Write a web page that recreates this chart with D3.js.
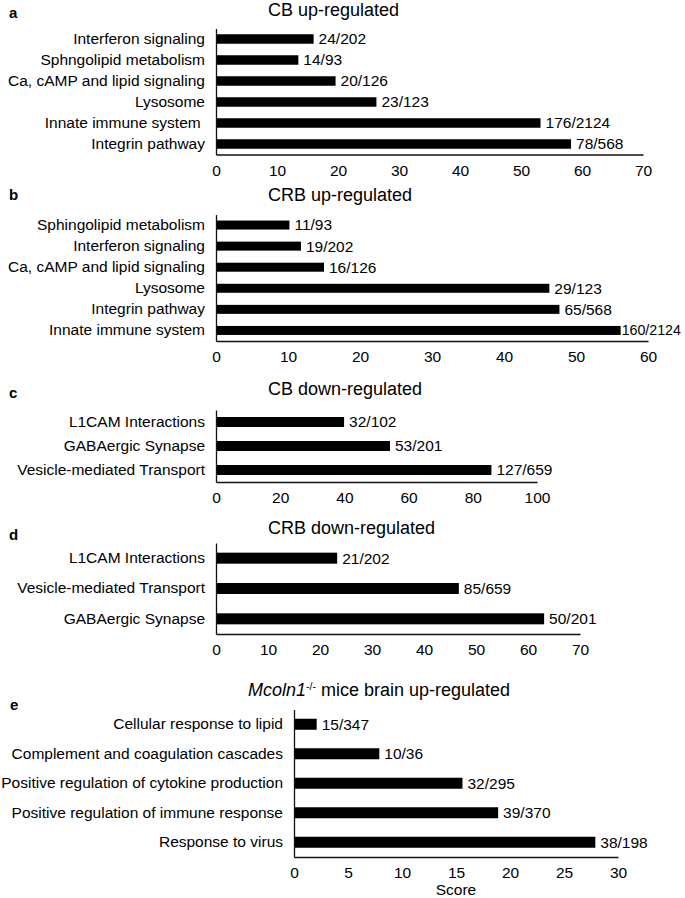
<!DOCTYPE html>
<html><head><meta charset="utf-8">
<script src="https://cdn.jsdelivr.net/npm/d3@7"></script>
<style>
body{margin:0;background:#fff}
text{font-family:"Liberation Sans",Arial,Helvetica,sans-serif;fill:#000}
</style>
</head><body>
<svg id="chart" width="685" height="898"></svg>
<script>
// ---------- data ----------
const aCategories = ["Interferon signaling","Sphngolipid metabolism","Ca, cAMP and lipid signaling","Lysosome","Innate immune system\u00A0","Integrin pathway"];
const aValues = [16.0, 13.5, 19.6, 26.3, 53.2, 58.2];
const aLabels = ["24/202","14/93","20/126","23/123","176/2124","78/568"];
const aTicks = [0,10,20,30,40,50,60,70];

const bCategories = ["Sphingolipid metabolism","Interferon signaling","Ca, cAMP and lipid signaling","Lysosome","Integrin pathway","Innate immune system"];
const bValues = [10.2, 11.8, 15.0, 46.3, 47.7, 56.2];
const bLabels = ["11/93","19/202","16/126","29/123","65/568","160/2124"];
const bTicks = [0,10,20,30,40,50,60];

const cCategories = ["L1CAM Interactions","GABAergic Synapse","Vesicle-mediated Transport"];
const cValues = [39.9, 54.2, 85.8];
const cLabels = ["32/102","53/201","127/659"];
const cTicks = [0,20,40,60,80,100];

const dCategories = ["L1CAM Interactions","Vesicle-mediated Transport","GABAergic Synapse"];
const dValues = [23.3, 46.7, 63.1];
const dLabels = ["21/202","85/659","50/201"];
const dTicks = [0,10,20,30,40,50,60,70];

const eCategories = ["Cellular response to lipid","Complement and coagulation cascades","Positive regulation of cytokine production","Positive regulation of immune response","Response to virus"];
const eValues = [2.1, 7.9, 15.6, 18.9, 27.9];
const eLabels = ["15/347","10/36","32/295","39/370","38/198"];
const eTicks = [0,5,10,15,20,25,30];

const titles = ["CB up-regulated","CRB up-regulated","CB down-regulated","CRB down-regulated",null];
const letters = ["a","b","c","d","e"];

// ---------- layout ----------
const layout = [
  {cats:aCategories, vals:aValues, labels:aLabels, ticks:aTicks, max:70, x0:216, x1:643, y0:28.5, y1:154.5, bar:9.5, tx:268, ty:10, lx:9, ly:13},
  {cats:bCategories, vals:bValues, labels:bLabels, ticks:bTicks, max:60, x0:216, x1:648, y0:214.5, y1:341, bar:9, tx:268, ty:195, lx:9, ly:195},
  {cats:cCategories, vals:cValues, labels:cLabels, ticks:cTicks, max:100, x0:216, x1:537, y0:410, y1:482, bar:10, tx:268, ty:389, lx:9, ly:393},
  {cats:dCategories, vals:dValues, labels:dLabels, ticks:dTicks, max:70, x0:216, x1:580, y0:543, y1:634, bar:11, tx:268, ty:528, lx:9, ly:535},
  {cats:eCategories, vals:eValues, labels:eLabels, ticks:eTicks, max:30, x0:294, x1:618, y0:709.5, y1:857, bar:11, tx:248, ty:690, lx:10, ly:705}
];

const svg = d3.select("#chart");
const FS = 15.5;
const W = 685;

layout.forEach((p, i) => {
  const g = svg.append("g");
  const x = d3.scaleLinear().domain([0, p.max]).range([p.x0, p.x1]);
  const y = d3.scaleBand().domain(p.cats).range([p.y0, p.y1]).padding(0);

  // bars
  g.selectAll("rect.bar").data(p.cats).join("rect")
    .attr("class","bar")
    .attr("x", x(0))
    .attr("y", d => y(d) + y.bandwidth()/2 - p.bar/2)
    .attr("width", (d, k) => x(p.vals[k]) - x(0))
    .attr("height", p.bar)
    .attr("fill", "#000");

  // value labels (shrink a label slightly if it would run off the page)
  g.selectAll("text.val").data(p.cats).join("text")
    .attr("class","val")
    .attr("y", d => y(d) + y.bandwidth()/2)
    .attr("dy", "0.35em")
    .attr("font-size", FS)
    .text((d, k) => p.labels[k])
    .each(function(d, k) {
      const end = x(p.vals[k]);
      const w = this.getComputedTextLength();
      const room = W - 4 - end;
      let gap = 5;
      if (w + gap > room) {
        gap = 1;
        if (w + gap > room) {
          d3.select(this).attr("font-size", FS * (room - gap) / w);
        }
      }
      d3.select(this).attr("x", end + gap);
    });

  // y axis (category labels)
  const ya = g.append("g").attr("transform", `translate(${p.x0},0)`)
    .call(d3.axisLeft(y).tickSize(0).tickSizeOuter(0).tickPadding(11));
  ya.select(".domain").attr("stroke", "#111").attr("stroke-width", 1.3);
  ya.selectAll("text").attr("font-size", FS).attr("font-family", null);

  // x axis
  const xa = g.append("g").attr("transform", `translate(0,${p.y1})`)
    .call(d3.axisBottom(x).tickValues(p.ticks).tickSize(0).tickSizeOuter(0).tickPadding(10));
  xa.select(".domain").attr("stroke", "#111").attr("stroke-width", 1.3);
  xa.selectAll("text").attr("font-size", FS).attr("font-family", null);

  // panel letter
  svg.append("text").attr("x", p.lx).attr("y", p.ly).attr("dy","0.35em")
    .attr("font-size", 15).attr("font-weight","bold").text(letters[i]);

  // title
  if (titles[i]) {
    svg.append("text").attr("x", p.tx).attr("y", p.ty).attr("dy","0.35em")
      .attr("font-size", 18).text(titles[i]);
  } else {
    const t = svg.append("text").attr("x", p.tx).attr("y", p.ty).attr("dy","0.35em").attr("font-size", 18);
    t.append("tspan").attr("font-style","italic").text("Mcoln1");
    t.append("tspan").attr("font-size", 10.5).attr("dy", "-0.6em").text("-/-");
    t.append("tspan").attr("dy", "0.35em").text(" mice brain up-regulated");
    // axis title
    svg.append("text").attr("x", (p.x0 + p.x1)/2).attr("y", 890).attr("dy","0.35em")
      .attr("text-anchor","middle").attr("font-size", FS).text("Score");
  }
});
</script>
</body></html>
